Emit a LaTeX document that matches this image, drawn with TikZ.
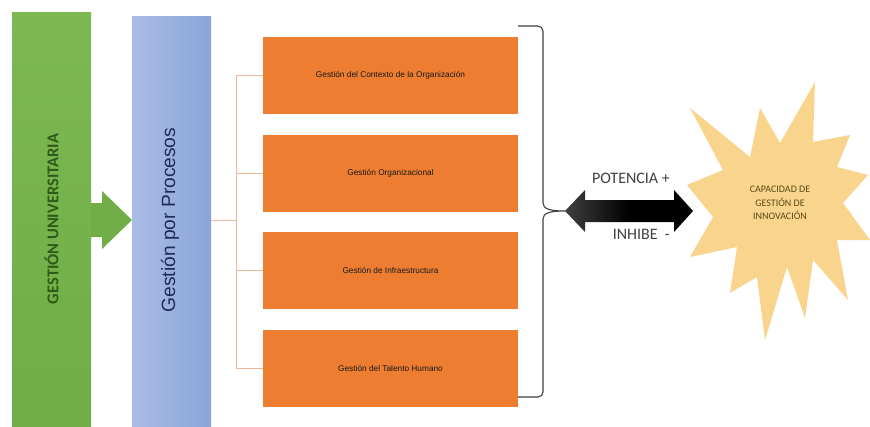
\documentclass[tikz,border=0pt]{standalone}
\usepackage{fontspec}
\setmainfont{Carlito}
\newfontfamily\arialf{Liberation Sans}
\begin{document}
\begin{tikzpicture}[x=1pt,y=-1pt,
  bar/.style={draw=none,inner sep=0pt,minimum width=79pt},
  procbox/.style={draw=none,fill=boxorange,minimum width=255pt,minimum height=77pt,inner sep=0pt,
     font=\arialf\fontsize{8.3}{10}\selectfont,text=black!90},
  conn/.style={draw=connc,line width=0.8pt},
  lbl/.style={font=\fontsize{16}{18}\selectfont,text=black!75,inner sep=0pt}]
\definecolor{gbar}{HTML}{70AD47}
\definecolor{gbarlight}{HTML}{7DB852}
\definecolor{bbarl}{HTML}{A9BCE5}
\definecolor{bbarr}{HTML}{8AA5DA}
\definecolor{boxorange}{HTML}{ED7D31}
\definecolor{connc}{HTML}{EDB89A}
\definecolor{starc}{HTML}{F8D48C}
\definecolor{gtext}{HTML}{2F5A17}
\definecolor{ptext}{HTML}{1F2B58}
\definecolor{stext}{HTML}{5C4A16}
\useasboundingbox (0,0) rectangle (870,426);
\fill[white] (0,0) rectangle (870,426);
% bars
\node[bar,minimum height=414pt,top color=gbarlight,bottom color=gbar] (gu) at (51.5,219) {};
\node[bar,minimum height=410pt,left color=bbarl,right color=bbarr] (pp) at (171.5,221) {};
\node[rotate=90,font=\bfseries\fontsize{16.5}{18}\selectfont,text=gtext] (gut) at (gu.center) {GESTIÓN UNIVERSITARIA};
\node[rotate=90,font=\arialf\fontsize{19.2}{22}\selectfont,text=ptext] (ppt) at (170,220) {Gestión por Procesos};
% green arrow
\fill[gbar] (91,203) -- (102,203) -- (102,191) -- (132,220) -- (102,249) -- (102,237) -- (91,237) -- cycle;
% process boxes
\node[procbox] (b1) at (390.5,75) {Gestión del Contexto de la Organización};
\node[procbox] (b2) at (390.5,173.5) {Gestión Organizacional};
\node[procbox] (b3) at (390.5,270.5) {Gestión de Infraestructura};
\node[procbox] (b4) at (390.5,368.5) {Gestión del Talento Humano};
% connectors
\coordinate (j) at (236,220);
\draw[conn] (pp.east |- j) -- (j);
\draw[conn] (j |- b1.west) -- (j |- b4.west);
\draw[conn] (j |- b1.west) -- (b1.west);
\draw[conn] (j |- b2.west) -- (b2.west);
\draw[conn] (j |- b3.west) -- (b3.west);
\draw[conn] (j |- b4.west) -- (b4.west);
% brace
\coordinate (tip) at (565,211);
\draw[black!75,line width=1.1pt,line join=round]
  (518,26) -- (538,26) to[out=0,in=90] (543,31) -- (543,203)
  .. controls (543,209) and (550,211) .. (tip)
  .. controls (550,211) and (543,213) .. (543,219) -- (543,392)
  to[out=-90,in=0] (538,397) -- (518,397);
% double arrow
\shade[left color=black!75,right color=black,middle color=black]
  (tip) -- (585,190) -- (585,200) -- (674,200) -- (674,190) -- (693,211)
  -- (674,232) -- (674,222) -- (585,222) -- (585,232) -- cycle;
\node[lbl,anchor=base east] (pot) at (670,183) {POTENCIA +};
\node[lbl,anchor=base east] (inh) at (670,239) {INHIBE \ -};
% star
\fill[starc] (690,108) -- (750,157) -- (760,108) -- (780,143) -- (815,82) -- (813,142)
  -- (850,135) -- (837,167) -- (868,175) -- (843,203) -- (870,240) -- (837,240)
  -- (848,300) -- (813,260) -- (805,318) -- (787,267) -- (765,340) -- (757,277)
  -- (730,293) -- (737,247) -- (690,257) -- (713,217) -- (687,185) -- (723,170) -- cycle;
\node[font=\fontsize{10}{13.5}\selectfont,text=stext,align=center] (st) at (780,203)
  {CAPACIDAD DE\\GESTIÓN DE\\INNOVACIÓN};
\end{tikzpicture}
\end{document}
